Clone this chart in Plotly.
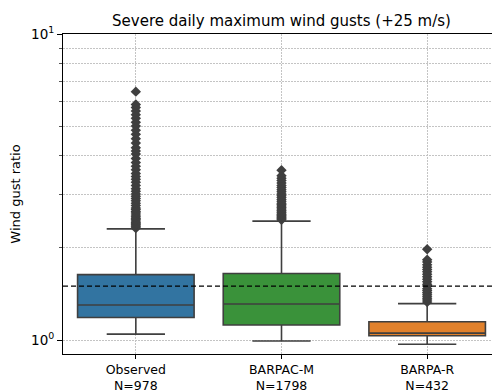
import plotly.graph_objects as go
import math

categories = ["Observed<br>N=978", "BARPAC-M<br>N=1798", "BARPA-R<br>N=432"]
colors = ["#3274a1", "#3a923a", "#e1812c"]

q1 = [1.184, 1.119, 1.032]
median = [1.302, 1.311, 1.053]
q3 = [1.635, 1.650, 1.147]
lowerfence = [1.045, 0.993, 0.969]
upperfence = [2.307, 2.446, 1.315]

outliers_observed = [2.32, 2.34, 2.36, 2.38, 2.40, 2.42, 2.45, 2.48, 2.50, 2.53, 2.56, 2.60,
                     2.63, 2.67, 2.70, 2.75, 2.80, 2.85, 2.90, 2.95, 3.00, 3.06, 3.12, 3.20,
                     3.28, 3.35, 3.42, 3.50, 3.60, 3.70, 3.80, 3.92, 4.05, 4.15, 4.25, 4.40,
                     4.55, 4.70, 4.85, 5.00, 5.15, 5.30, 5.45, 5.60, 5.75, 5.88, 6.48]
outliers_barpacm = [2.47, 2.49, 2.51, 2.53, 2.55, 2.57, 2.60, 2.62, 2.65, 2.68, 2.71, 2.74,
                    2.77, 2.80, 2.84, 2.88, 2.92, 2.96, 3.00, 3.05, 3.10, 3.15, 3.20, 3.26,
                    3.32, 3.38, 3.44, 3.59]
outliers_barpar = [1.33, 1.35, 1.37, 1.39, 1.41, 1.43, 1.45, 1.47, 1.50, 1.52, 1.55, 1.58,
                   1.61, 1.64, 1.67, 1.70, 1.73, 1.76, 1.80, 1.83, 1.98]
outliers = [outliers_observed, outliers_barpacm, outliers_barpar]

threshold = 1.5
y_min, y_max = 0.9, 10

grid_color = "#c4c4c4"
grid_dash = "2px,1px"

fig = go.Figure()

for i in range(len(categories)):
    fig.add_trace(go.Box(
        x=[i], q1=[q1[i]], median=[median[i]], q3=[q3[i]],
        lowerfence=[lowerfence[i]], upperfence=[upperfence[i]],
        width=0.8, whiskerwidth=0.5, fillcolor=colors[i],
        line=dict(color="#3f3f3f", width=1.6), boxpoints=False,
        showlegend=False, hoverinfo="skip",
    ))
    fig.add_trace(go.Scatter(
        x=[i] * len(outliers[i]), y=outliers[i], mode="markers",
        marker=dict(symbol="diamond", size=8, color="#3f3f3f",
                    line=dict(width=0)),
        showlegend=False, hoverinfo="skip",
    ))

fig.add_trace(go.Scatter(
    x=[-0.5, len(categories) - 0.5], y=[threshold, threshold], mode="lines",
    line=dict(color="black", width=1.4, dash="5px,3px"),
    showlegend=False, hoverinfo="skip",
))

fig.update_layout(
    width=500, height=392,
    margin=dict(l=52, r=7, t=26, b=37),
    paper_bgcolor="white", plot_bgcolor="white",
    font=dict(family="DejaVu Sans", size=12.5, color="black"),
    title=dict(text="Severe daily maximum wind gusts (+25 m/s)",
               xref="paper", x=0.5, xanchor="center", y=0.968, yanchor="middle",
               font=dict(size=15, color="black")),
    showlegend=False,
)

fig.update_xaxes(
    range=[-0.5, len(categories) - 0.5],
    tickvals=list(range(len(categories))), ticktext=categories,
    showgrid=True, gridcolor=grid_color, griddash=grid_dash, gridwidth=1,
    showline=True, linecolor="black", linewidth=1, mirror=True,
    ticks="outside", ticklen=4, tickcolor="black",
    zeroline=False, tickfont=dict(size=12.5),
)

fig.update_yaxes(
    type="log", range=[math.log10(y_min), math.log10(y_max)],
    tickvals=[1, 10], ticktext=["10<sup>0</sup>", "10<sup>1</sup>"],
    showgrid=True, gridcolor=grid_color, griddash=grid_dash, gridwidth=1,
    showline=True, linecolor="black", linewidth=1, mirror=True,
    ticks="outside", ticklen=5, tickcolor="black",
    minor=dict(tickvals=[2, 3, 4, 5, 6, 7, 8, 9], showgrid=True,
               gridcolor=grid_color, griddash=grid_dash, gridwidth=1,
               ticks="outside", ticklen=3, tickcolor="#555555"),
    title=dict(text="Wind gust ratio", standoff=7, font=dict(size=13)),
    zeroline=False, tickfont=dict(size=13.5),
)

fig.write_html("out.html")
